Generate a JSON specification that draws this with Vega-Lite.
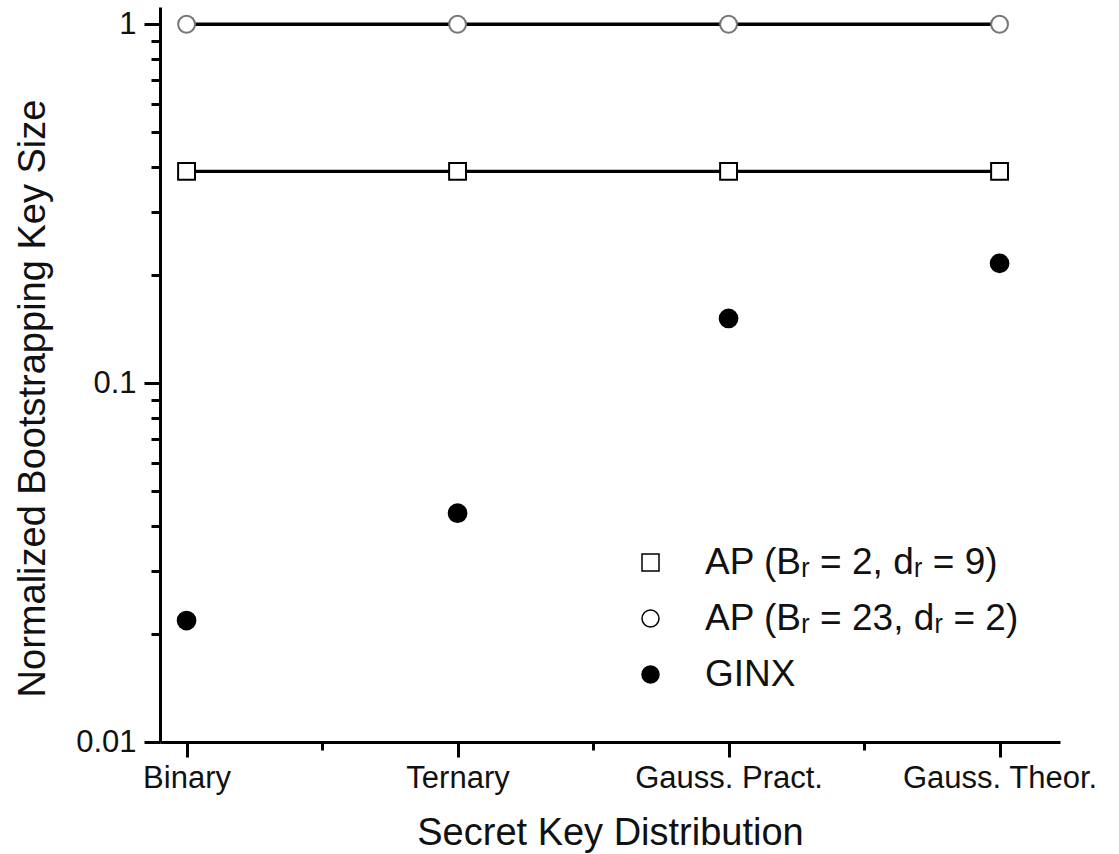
{
  "$schema": "https://vega.github.io/schema/vega-lite/v6.json",
  "width": 900,
  "height": 735,
  "autosize": "none",
  "padding": {"left": 160, "top": 7, "right": 59, "bottom": 112},
  "background": "white",
  "config": {
    "font": "Liberation Sans",
    "view": {"stroke": null},
    "axis": {
      "grid": false,
      "domainColor": "black",
      "domainWidth": 3,
      "tickColor": "black",
      "tickWidth": 3,
      "labelColor": "#111",
      "labelFontSize": 31,
      "titleFontSize": 38,
      "titleFontWeight": "normal",
      "titleColor": "#111",
      "labelOverlap": false,
      "labelFlush": false,
      "labelLimit": 400
    }
  },
  "data": {
    "values": [
      {"dist": "Binary", "idx": 1, "series": "AP (Bᵣ = 2, dᵣ = 9)", "value": 0.389},
      {"dist": "Ternary", "idx": 2, "series": "AP (Bᵣ = 2, dᵣ = 9)", "value": 0.389},
      {"dist": "Gauss. Pract.", "idx": 3, "series": "AP (Bᵣ = 2, dᵣ = 9)", "value": 0.389},
      {"dist": "Gauss. Theor.", "idx": 4, "series": "AP (Bᵣ = 2, dᵣ = 9)", "value": 0.389},
      {"dist": "Binary", "idx": 1, "series": "AP (Bᵣ = 23, dᵣ = 2)", "value": 1.0},
      {"dist": "Ternary", "idx": 2, "series": "AP (Bᵣ = 23, dᵣ = 2)", "value": 1.0},
      {"dist": "Gauss. Pract.", "idx": 3, "series": "AP (Bᵣ = 23, dᵣ = 2)", "value": 1.0},
      {"dist": "Gauss. Theor.", "idx": 4, "series": "AP (Bᵣ = 23, dᵣ = 2)", "value": 1.0},
      {"dist": "Binary", "idx": 1, "series": "GINX", "value": 0.0218},
      {"dist": "Ternary", "idx": 2, "series": "GINX", "value": 0.0434},
      {"dist": "Gauss. Pract.", "idx": 3, "series": "GINX", "value": 0.1514},
      {"dist": "Gauss. Theor.", "idx": 4, "series": "GINX", "value": 0.2156}
    ]
  },
  "encoding": {
    "x": {
      "field": "idx",
      "type": "quantitative",
      "scale": {"domain": [0.902, 4.223], "nice": false, "zero": false},
      "axis": {
        "title": "Secret Key Distribution",
        "values": [1, 1.5, 2, 2.5, 3, 3.5, 4],
        "labelExpr": "datum.value == 1 ? 'Binary' : datum.value == 2 ? 'Ternary' : datum.value == 3 ? 'Gauss. Pract.' : datum.value == 4 ? 'Gauss. Theor.' : ''",
        "tickSize": {"condition": {"test": "datum.value == 1 || datum.value == 2 || datum.value == 3 || datum.value == 4", "value": 15}, "value": 8},
        "labelPadding": 6,
        "titlePadding": 21
      }
    },
    "y": {
      "field": "value",
      "type": "quantitative",
      "scale": {"type": "log", "domain": [0.01, 1.117], "nice": false},
      "axis": {
        "title": "Normalized Bootstrapping Key Size",
        "values": [0.01, 0.02, 0.03, 0.04, 0.05, 0.06, 0.07, 0.08, 0.09, 0.1, 0.2, 0.3, 0.4, 0.5, 0.6, 0.7, 0.8, 0.9, 1],
        "labelExpr": "datum.value == 1 ? '1' : datum.value == 0.1 ? '0.1' : datum.value == 0.01 ? '0.01' : ''",
        "tickSize": {"condition": {"test": "datum.value == 1 || datum.value == 0.1 || datum.value == 0.01", "value": 16}, "value": 9},
        "labelPadding": 8,
        "titlePadding": 23,
        "titleY": 391
      }
    }
  },
  "layer": [
    {
      "transform": [{"filter": "datum.series != 'GINX'"}],
      "mark": {"type": "line", "color": "black", "strokeWidth": 3.4},
      "encoding": {"detail": {"field": "series"}}
    },
    {
      "mark": {"type": "point", "filled": true, "strokeWidth": 2, "opacity": 1},
      "encoding": {
        "shape": {
          "field": "series",
          "type": "nominal",
          "scale": {"domain": ["AP (Bᵣ = 2, dᵣ = 9)", "AP (Bᵣ = 23, dᵣ = 2)", "GINX"], "range": ["square", "circle", "circle"]},
          "legend": {
            "title": null,
            "orient": "none",
            "legendX": 472,
            "legendY": 537,
            "padding": 0,
            "labelFontSize": 37,
            "labelColor": "#111",
            "labelOffset": 36,
            "rowPadding": 18,
            "symbolSize": 289,
            "labelLimit": 600
          }
        },
        "fill": {
          "field": "series",
          "type": "nominal",
          "scale": {"domain": ["AP (Bᵣ = 2, dᵣ = 9)", "AP (Bᵣ = 23, dᵣ = 2)", "GINX"], "range": ["white", "white", "black"]},
          "legend": {
            "title": null,
            "orient": "none",
            "legendX": 472,
            "legendY": 537,
            "padding": 0,
            "labelFontSize": 37,
            "labelColor": "#111",
            "labelOffset": 36,
            "rowPadding": 18,
            "symbolSize": 289,
            "labelLimit": 600
          }
        },
        "stroke": {
          "condition": {"test": "datum.series == 'AP (Bᵣ = 23, dᵣ = 2)'", "value": "#777"},
          "value": "black"
        },
        "size": {
          "condition": {"test": "datum.series == 'GINX'", "value": 314},
          "value": 285
        }
      }
    }
  ]
}
